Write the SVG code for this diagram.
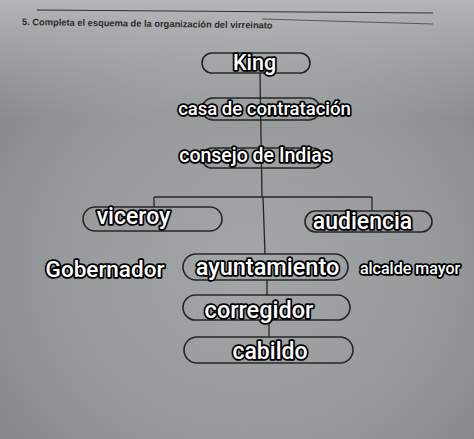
<svg xmlns="http://www.w3.org/2000/svg" width="474" height="439" viewBox="0 0 474 439">
<defs>
<radialGradient id="bg" cx="0.52" cy="0.6" r="0.7">
<stop offset="0" stop-color="#a3a7a8"/>
<stop offset="0.6" stop-color="#95999a"/>
<stop offset="1" stop-color="#818587"/>
</radialGradient>
<linearGradient id="top" x1="0" y1="0" x2="0" y2="1">
<stop offset="0" stop-color="#bfc1c1" stop-opacity="0.8"/>
<stop offset="1" stop-color="#bfc1c1" stop-opacity="0"/>
</linearGradient>
<style>
.box{fill:none;stroke:#262626;stroke-width:1.6}
.ln{fill:none;stroke:#262626;stroke-width:1.3}
.lbl{font-family:Roboto,"Liberation Sans",sans-serif;font-weight:500;fill:#fff;stroke:#000;stroke-width:3.6;paint-order:stroke;stroke-linejoin:round;text-anchor:middle}
.hdr{font-family:"Liberation Sans",Arial,sans-serif;font-size:9.3px;font-weight:bold;fill:#2c2c2c}
</style>
</defs>
<rect width="474" height="439" fill="url(#bg)"/>
<rect width="474" height="120" fill="url(#top)"/>
<g id="header">
<line x1="37" y1="10" x2="433" y2="13" stroke="#333" stroke-width="1"/>
<line x1="262" y1="19" x2="433" y2="24" stroke="#444" stroke-width="0.8"/>
<text class="hdr" x="22" y="25" transform="rotate(0.8 22 25)">5.  Completa el esquema de la organización del virreinato</text>
</g>
<g id="connectors">
<line class="ln" x1="260" y1="73" x2="262" y2="197"/>
<line class="ln" x1="154" y1="197" x2="372" y2="197"/>
<line class="ln" x1="154" y1="197" x2="154" y2="207"/>
<line class="ln" x1="372" y1="197" x2="372" y2="211"/>
<line class="ln" x1="263" y1="197" x2="265" y2="254"/>
<line class="ln" x1="267" y1="280" x2="267" y2="295"/>
<line class="ln" x1="269" y1="320" x2="269" y2="337"/>
</g>
<g id="king"><rect class="box" x="202" y="53" width="108" height="20" rx="10"/><text class="lbl" x="254.5" y="70" font-size="21.5">King</text></g>
<g id="casa"><rect class="box" x="202" y="98" width="118" height="22" rx="11"/><text class="lbl" x="264.5" y="115" font-size="18.5">casa de contratación</text></g>
<g id="consejo"><rect class="box" x="202" y="148" width="121" height="20" rx="10"/><text class="lbl" x="255.5" y="162" font-size="19.5">consejo de Indias</text></g>
<g id="viceroy"><rect class="box" x="83" y="207" width="139" height="24" rx="12"/><text class="lbl" x="133.5" y="224" font-size="23">viceroy</text></g>
<g id="audiencia"><rect class="box" x="305" y="211" width="127" height="21" rx="10.5"/><text class="lbl" x="362.5" y="229" font-size="23">audiencia</text></g>
<g id="ayuntamiento"><rect class="box" x="183" y="254" width="165" height="26" rx="13"/><text class="lbl" x="267.5" y="275" font-size="23.5">ayuntamiento</text></g>
<g id="gobernador"><text class="lbl" x="105" y="277" font-size="22.5">Gobernador</text></g>
<g id="alcalde"><text class="lbl" x="410" y="274" font-size="16">alcalde mayor</text></g>
<g id="corregidor"><rect class="box" x="183" y="295" width="167" height="25" rx="12.5"/><text class="lbl" x="259" y="318" font-size="23.5">corregidor</text></g>
<g id="cabildo"><rect class="box" x="184" y="337" width="169" height="26" rx="13"/><text class="lbl" x="270" y="359" font-size="23">cabildo</text></g>
</svg>
